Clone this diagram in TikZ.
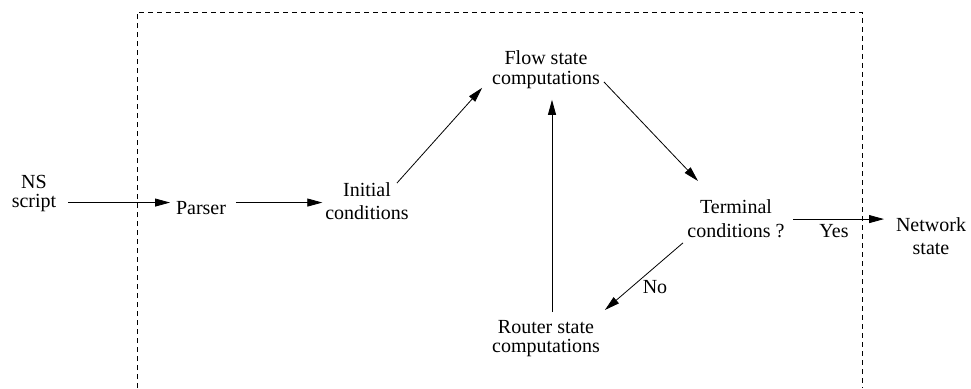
\documentclass[tikz,border=0pt]{standalone}
\usepackage{fontspec}
\setmainfont{Liberation Serif}
\usetikzlibrary{arrows.meta}
\begin{document}
\begin{tikzpicture}[x=1pt,y=-1pt,
  lbl/.style={inner sep=0pt,outer sep=0pt,align=center,font=\fontsize{20}{23}\selectfont},
  arr/.style={line width=0.8pt,-{Triangle[length=15pt,width=8pt]}},
  frame/.style={line width=0.7pt,dash pattern=on 5pt off 4pt}]
\useasboundingbox (0,0) rectangle (971,388);
% frame
\coordinate (fbl) at (137,388);
\coordinate (ftl) at (137,12);
\coordinate (ftr) at (862,12);
\coordinate (fbr) at (862,388);
\draw[frame] (fbl) -- (ftl) -- (ftr) -- (fbr);
% nodes
\node[lbl,anchor=north,font=\fontsize{20}{19}\selectfont] (ns) at (34,175.5) {NS\\script};
\node[lbl,anchor=base] (parser) at (201,214) {Parser};
\node[lbl,anchor=north] (init) at (367,183) {Initial\\conditions};
\node[lbl,anchor=north,font=\fontsize{20}{20}\selectfont] (flow) at (546,51) {Flow state\\computations};
\node[lbl,anchor=north,font=\fontsize{20}{24}\selectfont] (term) at (736,200) {Terminal\\conditions ?};
\node[lbl,anchor=north] (net) at (931,218) {Network\\state};
\node[lbl,anchor=north,font=\fontsize{20}{19}\selectfont] (router) at (546,320.5) {Router state\\computations};
\node[lbl,anchor=base] (yes) at (834,237) {Yes};
\node[lbl,anchor=base] (no) at (655,293) {No};
% connectors
\draw[arr] ([xshift=12pt,yshift=5pt]ns.east |- parser.west) -- ([xshift=-6pt,yshift=5pt]parser.west);
\draw[arr] ([xshift=10pt,yshift=5pt]parser.east) -- ([xshift=-3pt,yshift=5pt]init.west |- parser.east);
\draw[arr] ([xshift=-11.7pt]init.north east) -- ([xshift=-10pt,yshift=1.3pt]flow.south west);
\draw[arr] ([xshift=4pt,yshift=-11.8pt]flow.east) -- ([xshift=10.6pt,yshift=19pt]term.north west);
\draw[arr] ([xshift=6pt,yshift=8.5pt]router.north) -- ([xshift=6pt,yshift=-10.7pt]flow.south);
\draw[arr] ([xshift=-4.4pt,yshift=-4.7pt]term.south west) -- ([xshift=5pt,yshift=10.5pt]router.north east);
\draw[arr] ([xshift=8.4pt]term.east) -- ([xshift=-12pt]net.west |- term.east);
\end{tikzpicture}
\end{document}
